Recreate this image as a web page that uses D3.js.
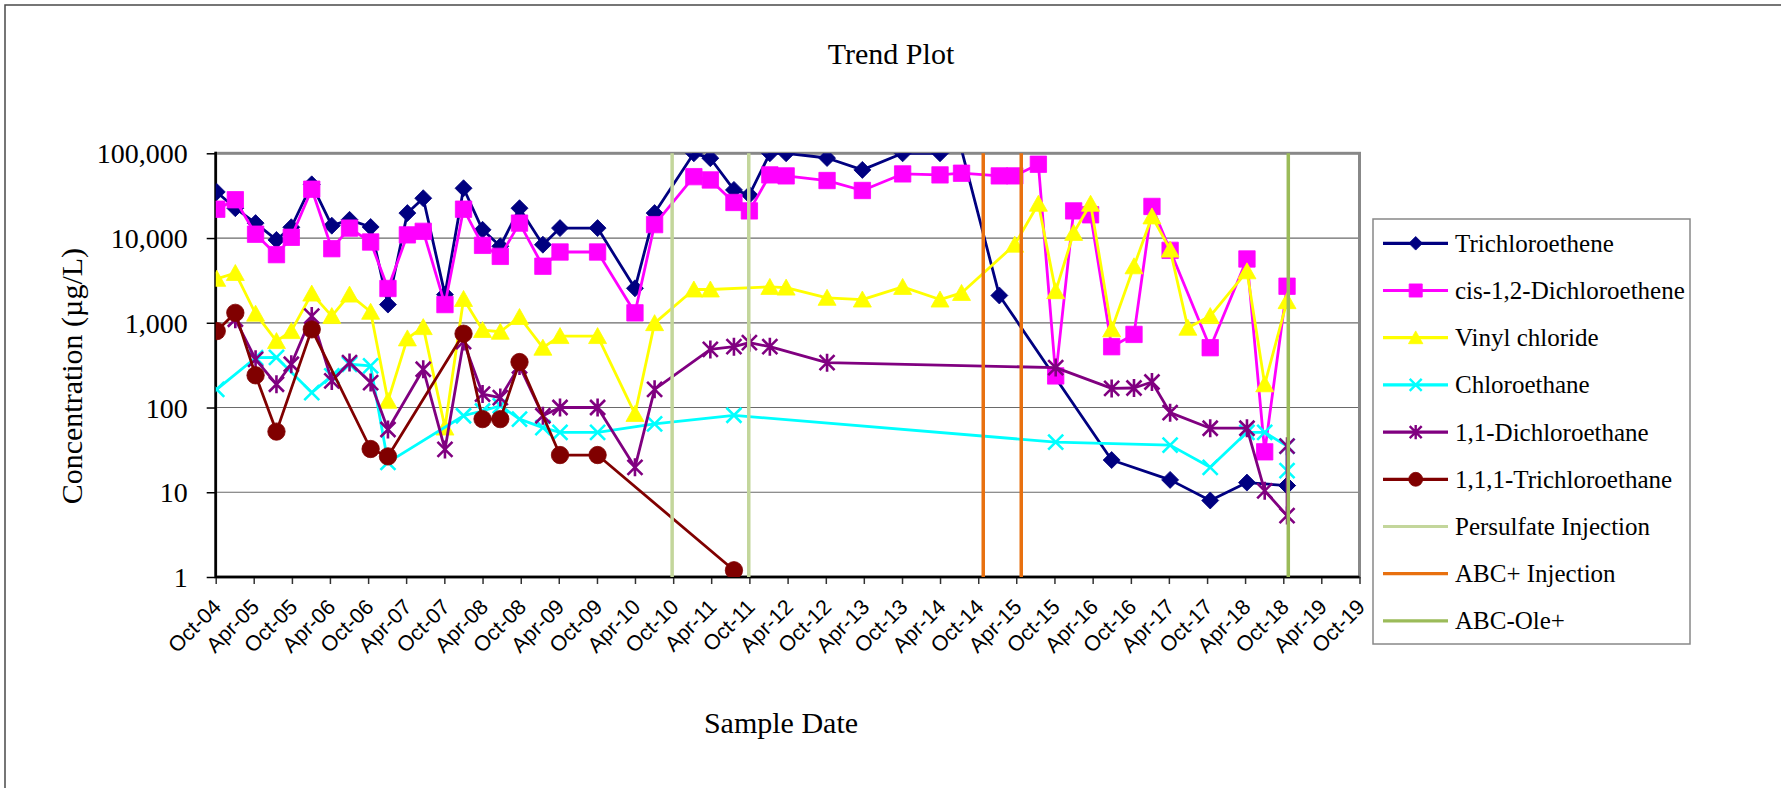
<!DOCTYPE html>
<html><head><meta charset="utf-8">
<script src="https://cdn.jsdelivr.net/npm/d3@7"></script>
<style>body{margin:0;background:#fff}svg{display:block}</style>
</head><body><svg id="c" width="1781" height="788"></svg>
<script>
// ---------------- DATA ----------------
const xTickLabels = ["Oct-04","Apr-05","Oct-05","Apr-06","Oct-06","Apr-07","Oct-07","Apr-08","Oct-08","Apr-09","Oct-09","Apr-10","Oct-10","Apr-11","Oct-11","Apr-12","Oct-12","Apr-13","Oct-13","Apr-14","Oct-14","Apr-15","Oct-15","Apr-16","Oct-16","Apr-17","Oct-17","Apr-18","Oct-18","Apr-19","Oct-19"];
const yTickValues = [1,10,100,1000,10000,100000];

const sampleDates = ["2004-10-06","2005-01-03","2005-04-10","2005-07-19","2005-09-28","2006-01-04","2006-04-10","2006-07-04","2006-10-13","2007-01-04",
 "2007-04-07","2007-06-22","2007-10-04","2008-01-01","2008-04-01","2008-06-25","2008-09-25","2009-01-15","2009-04-07","2009-10-04",
 "2010-04-01","2010-07-04","2011-01-08","2011-03-28","2011-07-19","2011-10-01","2012-01-07","2012-03-25","2012-10-07","2013-03-25",
 "2013-10-04","2014-04-01","2014-07-13","2015-01-10","2015-03-25","2015-07-16","2015-10-07","2016-01-01","2016-03-22","2016-07-01",
 "2016-10-16","2017-01-10","2017-04-07","2017-07-01","2017-10-16","2018-04-10","2018-07-04","2018-10-19","2018-10-19"];

const trichloroethene = [35000,22500,15000,9500,13400,43000,14000,16400,13500,1640,
 19700,29500,2150,38700,12500,8000,22500,8350,13100,13100,
 2550,19700,100000,87500,37000,32400,100000,100000,88000,63700,
 100000,100000,110000,2100,null,null,null,null,null,24,
 null,null,14,null,8,13,null,12,12];
const cisDCE = [21900,28300,11100,6370,10200,37700,7490,13100,8980,2540,
 10900,12000,1640,21900,8200,6080,15000,4650,6840,6840,
 1310,14400,53000,48500,26300,20900,55600,54100,47700,36400,
 57100,55600,58200,54100,54100,74300,236,20900,18800,522,
 729,23600,7160,null,508,5660,30,2700,null];
const vinylChloride = [3300,3870,1280,608,798,2210,1200,2150,1350,120,
 654,889,58,1910,821,784,1170,508,697,697,
 84,990,2470,2470,null,null,2650,2600,1970,1880,
 2650,1880,2250,null,8350,25400,2360,11500,25400,836,
 4640,18000,7300,874,1200,4050,188,1800,null];
const chloroethane = [164,null,387,390,null,150,236,324,310,22.5,
 null,null,null,80,91,105,73,58,51,51,
 null,64,null,null,81,null,null,null,null,null,
 null,null,null,null,null,null,39,null,null,null,
 null,null,36,null,19.7,51,51,35,18];
const dichloroethane11 = [null,1100,370,188,324,1200,206,339,197,55,
 null,283,32,600,144,131,309,80,100,100,
 19.7,164,null,485,522,582,522,null,338,null,
 null,null,null,null,null,null,296,null,null,168,
 170,200,87,null,57,57,10.4,5.3,35];
const trichloroethane111 = [798,1310,240,52,null,836,null,null,32.4,26.5,
 null,null,null,743,73,73,344,null,27.5,27.5,
 null,null,null,null,1.2,null,null,null,null,null,
 null,null,null,null,null,null,null,null,null,null,
 null,null,null,null,null,null,null,null,null];

const persulfateDates = ["2010-09-26","2011-09-28"];
const abcPlusDates = ["2014-10-25","2015-04-25"];
const abcOleDates = ["2018-10-25"];

// ---------------- SETUP ----------------
const svg = d3.select("#c");
const P = {left:215.7, right:1359.5, top:153.3, bottom:577};
const parseM = d3.timeParse("%b-%y");
const parseD = d3.timeParse("%Y-%m-%d");
const x = d3.scaleTime().domain([parseM(xTickLabels[0]), parseM(xTickLabels[xTickLabels.length-1])]).range([P.left, P.right]);
const y = d3.scaleLog().domain([1,100000]).range([P.bottom, P.top]);
const serif = "'Liberation Serif','Times New Roman',serif";
const sans = "'Liberation Sans',Arial,sans-serif";

// outer frame
svg.append("rect").attr("x",5).attr("y",5).attr("width",1800).attr("height",800)
  .attr("fill","none").attr("stroke","#4a4a4a").attr("stroke-width",1.5);

// titles
svg.append("text").attr("x",891).attr("y",64).attr("text-anchor","middle")
  .attr("font-family",serif).attr("font-size",30).text("Trend Plot");
svg.append("text").attr("x",781).attr("y",733).attr("text-anchor","middle")
  .attr("font-family",serif).attr("font-size",30).text("Sample Date");
svg.append("text").attr("transform",`translate(82,${(P.top+P.bottom)/2+11}) rotate(-90)`)
  .attr("text-anchor","middle").attr("font-family",serif).attr("font-size",30)
  .text("Concentration (µg/L)");

// gridlines
svg.append("g").selectAll("line").data(yTickValues).join("line")
  .attr("x1",P.left).attr("x2",P.right).attr("y1",d=>y(d)).attr("y2",d=>y(d))
  .attr("stroke","#6a6a6a").attr("stroke-width",1.2);

// plot border
svg.append("rect").attr("x",P.left).attr("y",P.top).attr("width",P.right-P.left).attr("height",P.bottom-P.top)
  .attr("fill","none").attr("stroke","#888").attr("stroke-width",3);

// y axis
const yAxis = svg.append("g").attr("transform",`translate(${P.left},0)`)
  .call(d3.axisLeft(y).tickValues(yTickValues).tickFormat(d3.format(",")).tickSize(9).tickPadding(19));
yAxis.select(".domain").remove();
yAxis.selectAll(".tick line").attr("stroke","#000").attr("stroke-width",1.5);
yAxis.selectAll(".tick text").attr("font-family",serif).attr("font-size",28).attr("fill","#000").attr("dy","0.34em");

// x axis
const xTickDates = xTickLabels.map(parseM);
const xAxis = svg.append("g").attr("transform",`translate(0,${P.bottom})`)
  .call(d3.axisBottom(x).tickValues(xTickDates).tickFormat((d,i)=>xTickLabels[i]).tickSize(7));
xAxis.select(".domain").remove();
xAxis.selectAll(".tick line").attr("stroke","#333").attr("stroke-width",1.5);
xAxis.selectAll(".tick text").attr("font-family",sans).attr("font-size",21.5).attr("fill","#000")
  .attr("x",0).attr("y",0).attr("dy","0.35em").attr("text-anchor","end")
  .attr("transform","translate(1,26) rotate(-45)");

// axis lines
svg.append("line").attr("x1",P.left).attr("x2",P.left).attr("y1",P.top-1.5).attr("y2",P.bottom+1)
  .attr("stroke","#000").attr("stroke-width",2.5);
svg.append("line").attr("x1",P.left).attr("x2",P.right).attr("y1",P.bottom).attr("y2",P.bottom)
  .attr("stroke","#000").attr("stroke-width",2.5);

// clip
svg.append("clipPath").attr("id","clip").append("rect")
  .attr("x",P.left).attr("y",P.top).attr("width",P.right-P.left).attr("height",P.bottom-P.top);

// markers
function shape(type, s){
  switch(type){
    case "diamond": return `M0,${-8.5*s}L${8.5*s},0L0,${8.5*s}L${-8.5*s},0Z`;
    case "square": return `M${-8.2*s},${-8.2*s}H${8.2*s}V${8.2*s}H${-8.2*s}Z`;
    case "triangle": return `M0,${-8.5*s}L${9*s},${7.5*s}L${-9*s},${7.5*s}Z`;
    case "x": return `M${-7.5*s},${-7.5*s}L${7.5*s},${7.5*s}M${7.5*s},${-7.5*s}L${-7.5*s},${7.5*s}`;
    case "star": return `M${-7.5*s},${-7.5*s}L${7.5*s},${7.5*s}M${7.5*s},${-7.5*s}L${-7.5*s},${7.5*s}M0,${-9*s}L0,${9*s}`;
    case "circle": return d3.arc()({innerRadius:0,outerRadius:8.7*s,startAngle:0,endAngle:2*Math.PI});
  }
}
const stroked = t => t==="x"||t==="star";

const series = [
  {name:"Trichloroethene", values:trichloroethene, color:"#000080", marker:"diamond"},
  {name:"cis-1,2-Dichloroethene", values:cisDCE, color:"#FF00FF", marker:"square"},
  {name:"Vinyl chloride", values:vinylChloride, color:"#FFFF00", marker:"triangle"},
  {name:"Chloroethane", values:chloroethane, color:"#00FFFF", marker:"x"},
  {name:"1,1-Dichloroethane", values:dichloroethane11, color:"#800080", marker:"star"},
  {name:"1,1,1-Trichloroethane", values:trichloroethane111, color:"#800000", marker:"circle"}
];
const vlines = [
  {name:"Persulfate Injection", dates:persulfateDates, color:"#C3D69B"},
  {name:"ABC+ Injection", dates:abcPlusDates, color:"#E8700F"},
  {name:"ABC-Ole+", dates:abcOleDates, color:"#9BBB59"}
];

const line = d3.line().x(d=>x(d.date)).y(d=>y(d.v));
const gData = svg.append("g").attr("clip-path","url(#clip)");
series.forEach(s=>{
  const pts = s.values.map((v,i)=>({date:parseD(sampleDates[i]), v})).filter(d=>d.v!=null);
  gData.append("path").datum(pts).attr("d",line).attr("fill","none")
    .attr("stroke",s.color).attr("stroke-width",2.8).attr("stroke-linejoin","round");
  const vis = pts.filter(d=>d.v<=100000 && d.v>=1);
  gData.selectAll(null).data(vis).join("path")
    .attr("transform",d=>`translate(${x(d.date)},${y(d.v)})`)
    .attr("d",shape(s.marker,1))
    .attr("fill",stroked(s.marker)?"none":s.color)
    .attr("stroke",s.color).attr("stroke-width",stroked(s.marker)?2.6:0.8);
});
vlines.forEach(v=>{
  svg.append("g").selectAll("line").data(v.dates.map(parseD)).join("line")
    .attr("x1",d=>x(d)).attr("x2",d=>x(d)).attr("y1",y(100000)).attr("y2",y(1))
    .attr("stroke",v.color).attr("stroke-width",3.5);
});

// legend
const L = {x:1373, y:219, w:317, h:425, row0:243.3, step:47.2};
svg.append("rect").attr("x",L.x).attr("y",L.y).attr("width",L.w).attr("height",L.h)
  .attr("fill","#fff").attr("stroke","#888").attr("stroke-width",1.5);
const legendItems = series.map(s=>({name:s.name,color:s.color,marker:s.marker}))
  .concat(vlines.map(v=>({name:v.name,color:v.color,marker:null})));
const lg = svg.append("g").selectAll("g").data(legendItems).join("g")
  .attr("transform",(d,i)=>`translate(0,${L.row0+i*L.step})`);
lg.append("line").attr("x1",1383).attr("x2",1448).attr("y1",0).attr("y2",0)
  .attr("stroke",d=>d.color).attr("stroke-width",3.2);
lg.filter(d=>d.marker).append("path").attr("transform","translate(1415.7,0)")
  .attr("d",d=>shape(d.marker,0.8))
  .attr("fill",d=>stroked(d.marker)?"none":d.color)
  .attr("stroke",d=>d.color).attr("stroke-width",d=>stroked(d.marker)?2.4:0.8);
lg.append("text").attr("x",1455).attr("y",0).attr("dy","0.34em")
  .attr("font-family",serif).attr("font-size",25).text(d=>d.name);
</script>
</body></html>
